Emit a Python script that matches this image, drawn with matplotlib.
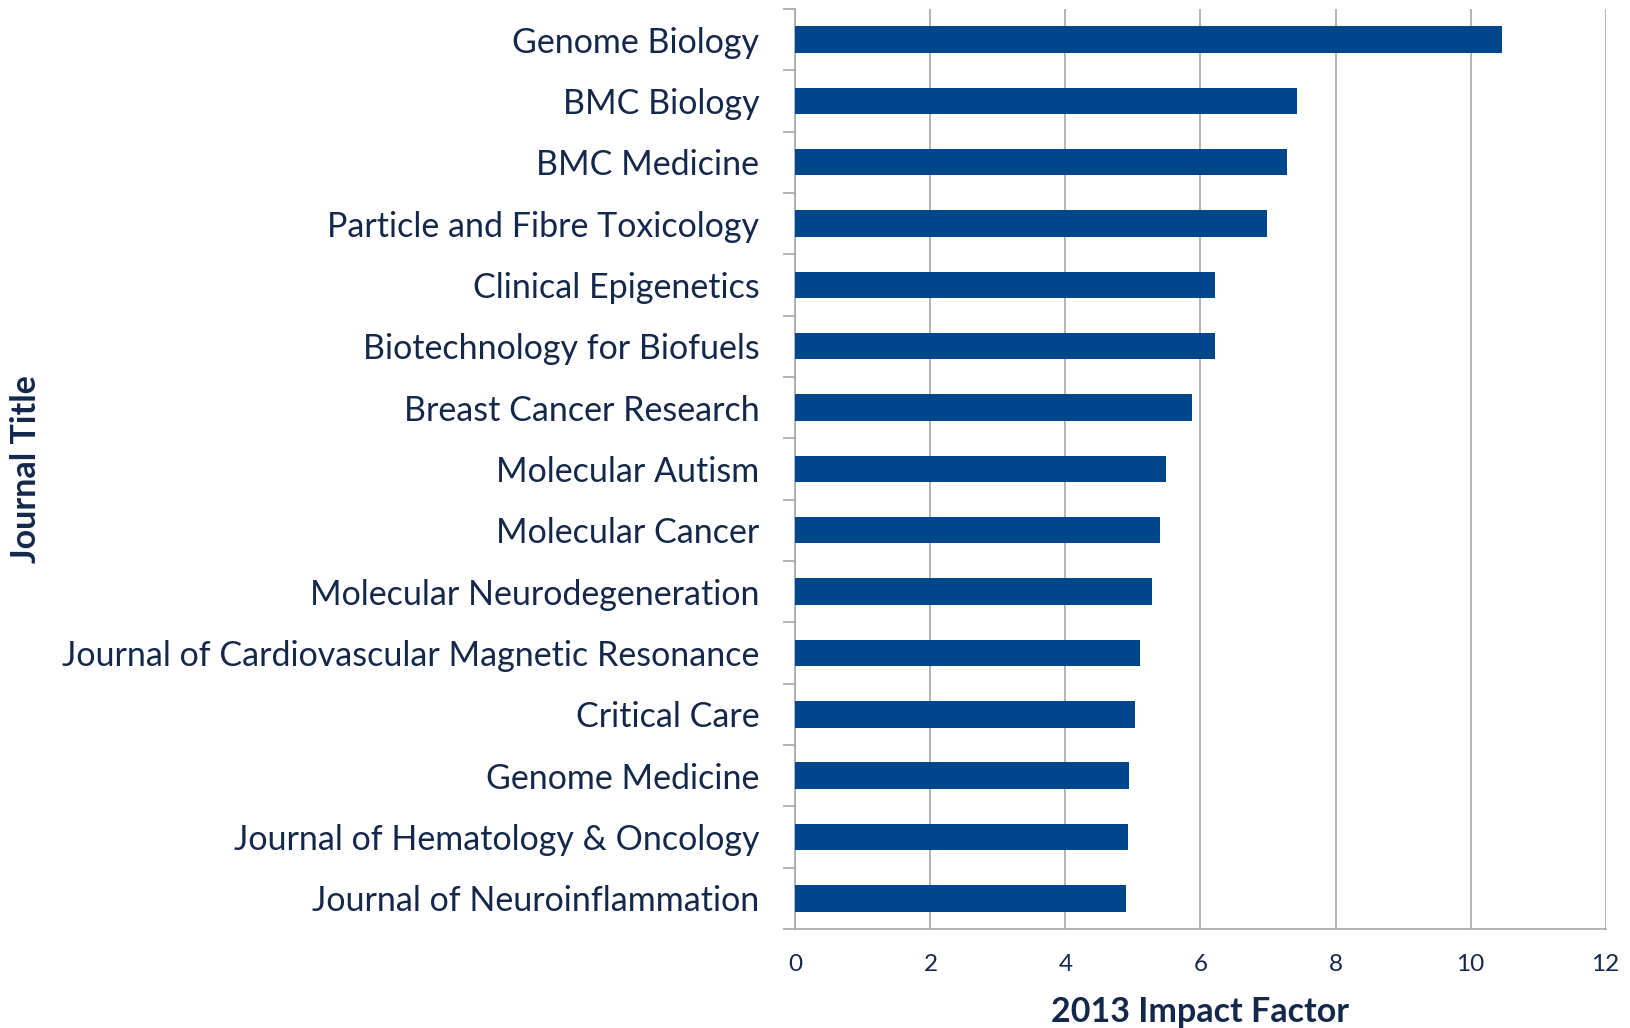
import matplotlib.pyplot as plt
import numpy as np

# journals, top to bottom as shown
journals = ['Genome Biology', 'BMC Biology', 'BMC Medicine',
            'Particle and Fibre Toxicology', 'Clinical Epigenetics',
            'Biotechnology for Biofuels', 'Breast Cancer Research',
            'Molecular Autism', 'Molecular Cancer',
            'Molecular Neurodegeneration',
            'Journal of Cardiovascular Magnetic Resonance', 'Critical Care',
            'Genome Medicine', 'Journal of Hematology & Oncology',
            'Journal of Neuroinflammation']
impact = [10.465, 7.43, 7.276, 6.99, 6.219, 6.221, 5.88, 5.486, 5.397,
          5.288, 5.11, 5.035, 4.942, 4.933, 4.902]
xticks = [0, 2, 4, 6, 8, 10, 12]

navy = '#00468A'
text_col = '#14284B'
grid_col = '#A6A6AE'

plt.rcParams['font.family'] = ['Lato', 'DejaVu Sans']

fig = plt.figure(figsize=(16.3, 10.28), dpi=100)
ax = fig.add_axes([0.488, 0.0963, 0.497, 0.895])

n = len(journals)
pos = np.arange(n)
ax.barh(pos, impact, height=0.43, color=navy, zorder=3)
ax.set_ylim(n - 0.5, -0.5)
ax.set_xlim(0, 12)

# category boundary ticks, labels at centers
ax.set_yticks(np.arange(n + 1) - 0.5)
ax.set_yticklabels([])
ax.tick_params(axis='y', which='major', length=9, color=grid_col, width=1.2)
ax.set_yticks(pos, minor=True)
ax.set_yticklabels(journals, minor=True, fontsize=24.5, color=text_col)
ax.tick_params(axis='y', which='minor', length=0, pad=26)

ax.set_xticks(xticks)
ax.set_xticklabels([str(t) for t in xticks], fontsize=17.5, color=text_col)
ax.tick_params(axis='x', length=0, pad=18)
ax.xaxis.grid(True, color=grid_col, linewidth=1.2, zorder=0)

for s in ['top', 'right']:
    ax.spines[s].set_visible(False)
for s in ['left', 'bottom']:
    ax.spines[s].set_color(grid_col)
    ax.spines[s].set_linewidth(1.2)

ax.set_xlabel('2013 Impact Factor', fontsize=24.5, fontweight='bold',
              color=text_col, labelpad=15)
fig.text(0.016, 0.5435, 'Journal Title', rotation=90, fontsize=24.5,
         fontweight='bold', color=text_col, ha='center', va='center')

fig.savefig('out.png', dpi=100)
